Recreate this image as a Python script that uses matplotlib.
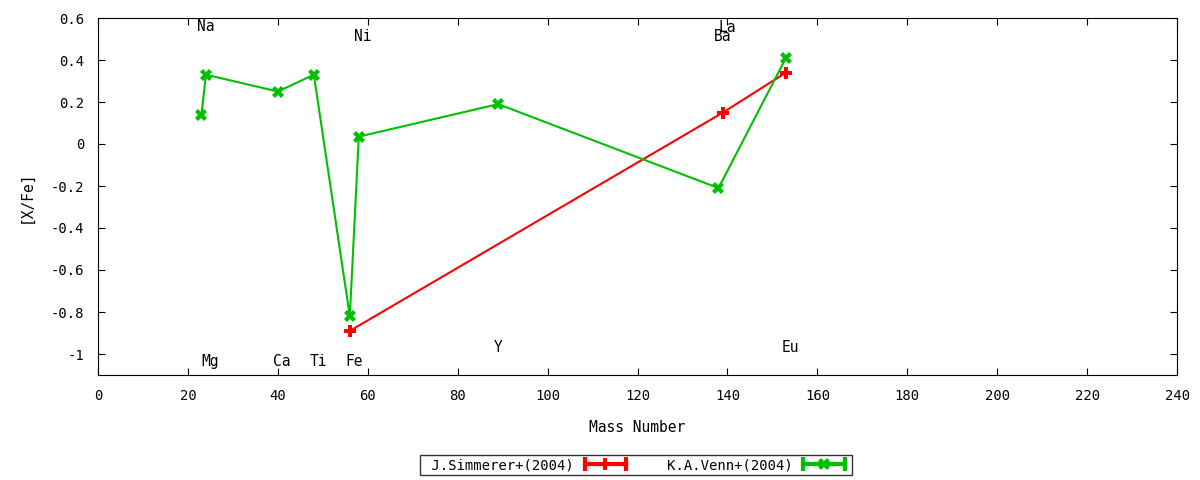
import matplotlib
matplotlib.use('Agg')
import matplotlib.pyplot as plt
from matplotlib.lines import Line2D
from matplotlib.legend_handler import HandlerLine2D
from matplotlib.ticker import MultipleLocator, FuncFormatter

plt.rcParams['font.family'] = 'DejaVu Sans Mono'
plt.rcParams['font.size'] = 10
plt.rcParams['axes.unicode_minus'] = False

# data
simmerer_mass = [56, 139, 153]
simmerer_xfe = [-0.89, 0.15, 0.34]

venn_mass = [23, 24, 40, 48, 56, 58, 89, 138, 153]
venn_xfe = [0.14, 0.33, 0.25, 0.33, -0.82, 0.035, 0.19, -0.21, 0.41]

# element labels (name, mass, y of label)
elem_names = ['Na', 'Mg', 'Ca', 'Ti', 'Fe', 'Ni', 'Y', 'Ba', 'La', 'Eu']
elem_mass = [23, 24, 40, 48, 56, 58, 89, 138, 139, 153]
elem_y = [0.56, -1.035, -1.035, -1.035, -1.035, 0.51, -0.97, 0.51, 0.555, -0.97]

red = '#ff0000'
green = '#00c000'

fig = plt.figure(figsize=(12, 4.8), dpi=100)
ax = fig.add_axes([0.0817, 0.21875, 0.8992, 0.74375])

ax.plot(simmerer_mass, simmerer_xfe, color=red, lw=1.5, marker='P', ms=9, mew=0)
ax.plot(venn_mass, venn_xfe, color=green, lw=1.5, marker='X', ms=9, mew=0)

for name, m, y in zip(elem_names, elem_mass, elem_y):
    ax.text(m - 1.0, y, name, ha='left', va='center', fontsize=10.5)

ax.set_xlim(0, 240)
ax.set_ylim(-1.1, 0.6)
ax.xaxis.set_major_locator(MultipleLocator(20))
ax.yaxis.set_major_locator(MultipleLocator(0.2))
ax.yaxis.set_major_formatter(FuncFormatter(lambda v, p: '%g' % round(v, 6)))
ax.tick_params(direction='in', top=True, right=True, length=5, labelsize=10, pad=10)
ax.set_xlabel('Mass Number', fontsize=10.5, labelpad=12)
ax.set_ylabel('[X/Fe]', fontsize=10.5, labelpad=12)

# legend with gnuplot style error-bar samples
handles = []
hmap = {}
for c, mk in [(red, 'P'), (green, 'X')]:
    cap = Line2D([], [], color=c, lw=3, marker='|', ms=10, mew=3)
    mid = Line2D([], [], color=c, ls='none', marker=mk, ms=9, mew=0)
    hmap[cap] = HandlerLine2D(numpoints=2)
    hmap[mid] = HandlerLine2D(numpoints=1)
    handles.append((cap, mid))

leg = fig.legend(handles, [' J.Simmerer+(2004)', '   K.A.Venn+(2004)'],
                 handler_map=hmap, loc='center', bbox_to_anchor=(0.53, 0.031),
                 ncol=2, markerfirst=False, frameon=True, fancybox=False,
                 edgecolor='black', fontsize=10, handlelength=3.6,
                 columnspacing=0.8, borderpad=0.2, handletextpad=0.5)
leg.get_frame().set_linewidth(1)

fig.savefig('out.png', dpi=100)
